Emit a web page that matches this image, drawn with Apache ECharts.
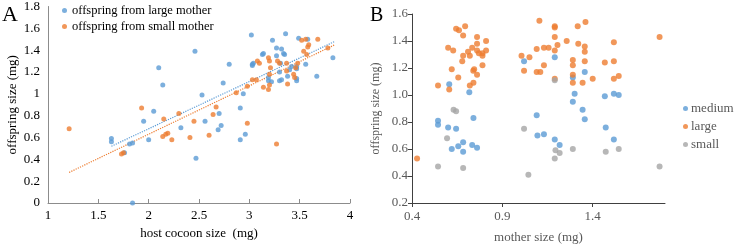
<!DOCTYPE html>
<html>
<head>
<meta charset="utf-8">
<script src="https://cdn.jsdelivr.net/npm/echarts@6/dist/echarts.min.js"></script>
<style>
  html, body { margin: 0; padding: 0; background: #fff; }
  #main { width: 740px; height: 249px; }
</style>
</head>
<body>
<div id="main"></div>
<script>
// panel A : host cocoon size vs offspring size
var aXTicks = [1, 1.5, 2, 2.5, 3, 3.5, 4];
var aYTicks = [0, 0.2, 0.4, 0.6, 0.8, 1, 1.2, 1.4, 1.6, 1.8];
var aNames = ['offspring from large mother', 'offspring from small mother'];

var largeMother = [
  [1.84, 0], [1.63, 0.59], [1.63, 0.56], [1.76, 0.46], [1.81, 0.54], [1.84, 0.55],
  [1.95, 0.75], [2.0, 0.58], [2.32, 0.69], [2.47, 0.41], [2.05, 0.84], [2.1, 1.24],
  [2.14, 1.08], [2.46, 1.39], [2.53, 0.99], [2.74, 1.10], [2.8, 1.27], [2.56, 0.75],
  [2.70, 0.82], [2.72, 0.71], [2.69, 0.67], [2.91, 0.58], [2.96, 0.63], [2.91, 0.87],
  [2.94, 1.0], [3.03, 1.27], [3.02, 1.54], [3.36, 1.55], [3.23, 1.49], [3.27, 1.42],
  [3.32, 1.41], [3.49, 1.51], [3.58, 1.50], [3.83, 1.33], [3.67, 1.16], [3.56, 1.27],
  [3.47, 1.25], [3.47, 1.23], [3.47, 1.14], [3.47, 1.12], [3.38, 1.16], [3.32, 1.13],
  [3.30, 1.12], [3.40, 1.22], [3.42, 1.25], [3.19, 1.15], [3.19, 1.12], [3.22, 1.11],
  [3.30, 1.20], [3.04, 1.28], [3.13, 1.36], [3.14, 1.37], [3.27, 1.35], [3.34, 1.37],
  [3.35, 1.36], [3.31, 1.28], [3.03, 1.26]
];
var smallMother = [
  [1.21, 0.68], [1.73, 0.45], [1.75, 0.46], [1.93, 0.87], [2.15, 0.77], [2.30, 0.82],
  [2.45, 0.75], [2.14, 0.61], [2.17, 0.63], [2.19, 0.64], [2.23, 0.58], [2.41, 0.60],
  [2.60, 0.62], [2.64, 0.81], [2.67, 0.88], [2.87, 1.01], [2.98, 1.07], [3.03, 1.13],
  [3.07, 1.13], [2.98, 0.73], [3.27, 0.54], [3.52, 1.49], [3.56, 1.50], [3.59, 1.45],
  [3.58, 1.43], [3.68, 1.50], [3.78, 1.42], [3.54, 1.39], [3.57, 1.36], [3.48, 1.28],
  [3.46, 1.24], [3.44, 1.18], [3.45, 1.15], [3.37, 1.21], [3.19, 1.33], [3.20, 1.30],
  [3.28, 1.30], [3.30, 1.28], [3.08, 1.30], [3.10, 1.28], [3.21, 1.24], [3.37, 1.28],
  [3.20, 1.18], [3.14, 1.06], [3.19, 1.04], [3.20, 1.08], [3.38, 1.09]
];
// trend line end points
var largeTrend = [[1.63, 0.52], [3.85, 1.48]];
var smallTrend = [[1.21, 0.28], [3.85, 1.45]];

// panel B : mother size vs offspring size
var bXTicks = [0.4, 0.9, 1.4];
var bYTicks = [0.2, 0.4, 0.6, 0.8, 1.0, 1.2, 1.4, 1.6];
var bNames = ['medium', 'large', 'small'];

var mediumOff = [
  [0.606, 1.08], [0.717, 1.02], [0.74, 0.83], [0.544, 0.81], [0.544, 0.78], [0.6, 0.76],
  [0.644, 0.75], [0.62, 0.60], [0.656, 0.62], [0.683, 0.65], [0.683, 0.58], [0.733, 0.63],
  [0.76, 0.61], [1.02, 1.25], [1.19, 1.28], [1.29, 1.13], [1.30, 1.01], [1.29, 0.95],
  [1.09, 0.85], [1.094, 0.70], [1.13, 0.71], [1.19, 0.67], [1.217, 0.63], [1.356, 1.17],
  [1.467, 0.99], [1.517, 1.01], [1.544, 1.0], [1.344, 0.89], [1.356, 0.82], [1.472, 0.76],
  [1.517, 0.67]
];
var largeOff = [
  [0.428, 0.53], [0.544, 1.07], [0.606, 1.04], [0.60, 1.35], [0.628, 1.33], [0.62, 1.19],
  [0.644, 1.49], [0.66, 1.48], [0.694, 1.51], [0.683, 1.44], [0.678, 1.25], [0.683, 1.29],
  [0.656, 1.13], [0.71, 1.32], [0.72, 1.29], [0.733, 1.35], [0.739, 1.18], [0.744, 1.19],
  [0.76, 1.15], [0.74, 1.09], [0.72, 1.07], [0.76, 1.43], [0.76, 1.38], [0.76, 1.33],
  [0.77, 1.31], [0.79, 1.31], [0.79, 1.29], [0.81, 1.40], [0.81, 1.33], [0.79, 1.22],
  [1.006, 1.29], [1.05, 1.28], [1.02, 1.18], [1.09, 1.34], [1.09, 1.17], [1.11, 1.17],
  [1.13, 1.35], [1.156, 1.35], [1.13, 1.22], [1.105, 1.55], [1.19, 1.51], [1.19, 1.50],
  [1.19, 1.43], [1.205, 1.37], [1.19, 1.33], [1.19, 1.12], [1.256, 1.40], [1.317, 1.51],
  [1.29, 1.26], [1.29, 1.22], [1.29, 1.15], [1.29, 1.09], [1.36, 1.54], [1.32, 1.38],
  [1.356, 1.36], [1.356, 1.32], [1.356, 1.25], [1.517, 1.39], [1.467, 1.24], [1.517, 1.25],
  [1.344, 1.09], [1.40, 1.12], [1.517, 1.12], [1.544, 1.14], [1.77, 1.43]
];
var smallOff = [
  [0.63, 0.89], [0.644, 0.88], [0.594, 0.68], [0.544, 0.47], [0.683, 0.46], [1.02, 0.75],
  [1.044, 0.41], [1.19, 0.53], [1.194, 0.59], [1.217, 0.57], [1.29, 0.60], [1.19, 1.11],
  [1.472, 0.58], [1.544, 0.60], [1.77, 0.47]
];

var blue = '#5b9bd5', orange = '#ed7d31', gray = '#a5a5a5';
var serif = 'Liberation Serif';
var bGray = '#595959';

function dots(name, data, color, xi, size) {
  return {
    name: name, type: 'scatter', xAxisIndex: xi, yAxisIndex: xi,
    data: data, symbolSize: size, itemStyle: { color: color }, z: 3
  };
}
function trend(data, color) {
  return {
    type: 'line', xAxisIndex: 0, yAxisIndex: 0, data: data, showSymbol: false,
    lineStyle: { color: color, width: 1.2, type: 'dotted' }, silent: true, z: 2
  };
}

var option = {
  animation: false,
  backgroundColor: '#fff',
  textStyle: { fontFamily: serif },
  graphic: [
    { type: 'text', left: 2, top: 4, style: { text: 'A', font: '22px ' + serif, fill: '#000' } },
    { type: 'text', left: 370, top: 6, style: { text: 'B', font: '20px ' + serif, fill: '#000' } }
  ],
  legend: [{
    data: aNames, orient: 'vertical', left: 57, top: -1, itemGap: 3,
    icon: 'circle', itemWidth: 5, itemHeight: 5,
    textStyle: { fontFamily: serif, fontSize: 12.5, color: '#000' }
  }, {
    data: bNames, orient: 'vertical', left: 683, top: 102, itemGap: 5, padding: 0,
    icon: 'circle', itemWidth: 5, itemHeight: 5,
    textStyle: { fontFamily: serif, fontSize: 13, color: bGray, padding: [0, 0, 0, -2] }
  }],
  grid: [
    { left: 48, top: 5, width: 302, height: 198 },
    { left: 412, top: 14, width: 253, height: 194 }
  ],
  xAxis: [{
    gridIndex: 0, type: 'value', min: aXTicks[0], max: aXTicks[aXTicks.length - 1], interval: 0.5,
    name: 'host cocoon size  (mg)', nameLocation: 'middle', nameGap: 22,
    nameTextStyle: { fontFamily: serif, fontSize: 13, color: '#000' },
    axisLine: { lineStyle: { color: '#8c8c8c' } },
    axisTick: { inside: true, length: 4, lineStyle: { color: '#8c8c8c' } },
    axisLabel: { fontFamily: serif, fontSize: 13, color: '#000', margin: 6 },
    splitLine: { show: false }
  }, {
    gridIndex: 1, type: 'value', min: bXTicks[0], max: 1.8, interval: 0.5,
    name: 'mother size (mg)', nameLocation: 'middle', nameGap: 28,
    nameTextStyle: { fontFamily: serif, fontSize: 13, color: bGray },
    axisLine: { lineStyle: { color: '#404040' } },
    axisTick: { length: 4, lineStyle: { color: '#404040' } },
    axisLabel: {
      fontFamily: serif, fontSize: 13, color: bGray, margin: 7, showMaxLabel: false,
      formatter: function (v) { return v.toFixed(1); }
    },
    splitLine: { show: false }
  }],
  yAxis: [{
    gridIndex: 0, type: 'value', min: aYTicks[0], max: aYTicks[aYTicks.length - 1], interval: 0.2,
    name: 'offspring size (mg)', nameLocation: 'middle', nameGap: 29,
    nameTextStyle: { fontFamily: serif, fontSize: 13, color: '#000' },
    axisLine: { show: true, lineStyle: { color: '#8c8c8c' } },
    axisTick: { show: false },
    axisLabel: { fontFamily: serif, fontSize: 13, color: '#000', margin: 8 },
    splitLine: { show: false }
  }, {
    gridIndex: 1, type: 'value', min: bYTicks[0], max: bYTicks[bYTicks.length - 1], interval: 0.2,
    name: 'offspring size (mg)', nameLocation: 'middle', nameGap: 30,
    nameTextStyle: { fontFamily: serif, fontSize: 12, color: bGray },
    axisLine: { show: true, lineStyle: { color: '#404040' } },
    axisTick: { show: true, length: 4, lineStyle: { color: '#404040' } },
    axisLabel: {
      fontFamily: serif, fontSize: 13, color: bGray, margin: 4,
      formatter: function (v) { return v.toFixed(1); }
    },
    splitLine: { show: false }
  }],
  series: [
    trend(largeTrend, blue),
    trend(smallTrend, orange),
    dots(aNames[0], largeMother, blue, 0, 5),
    dots(aNames[1], smallMother, orange, 0, 5),
    dots(bNames[0], mediumOff, blue, 1, 6),
    dots(bNames[1], largeOff, orange, 1, 6),
    dots(bNames[2], smallOff, gray, 1, 6)
  ]
};

var chart = echarts.init(document.getElementById('main'), null, { renderer: 'canvas' });
chart.setOption(option);
</script>
</body>
</html>
